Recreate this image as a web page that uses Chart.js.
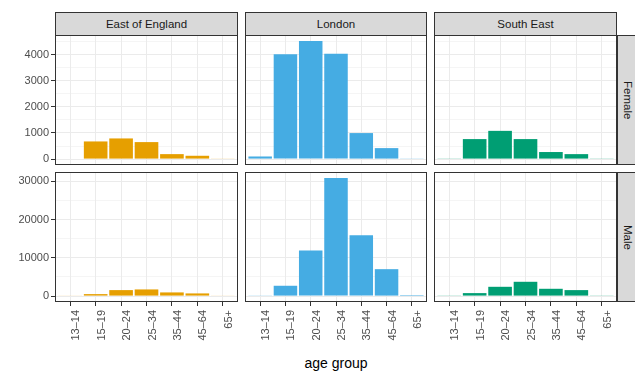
<!DOCTYPE html>
<html>
<head>
<meta charset="utf-8">
<script src="https://cdn.jsdelivr.net/npm/chart.js@4.4.1/dist/chart.umd.min.js"></script>
<style>
  html, body { margin:0; padding:0; background:#fff; }
  #wrap { position:relative; width:635px; height:376px; overflow:hidden; font-family:'Liberation Sans', Arial, sans-serif; }
  canvas { position:absolute; }
  .strip { position:absolute; box-sizing:border-box; background:#D9D9D9; border:1px solid #333; color:#1A1A1A; font-size:11.5px; display:flex; align-items:center; justify-content:center; }
  .strip.v span { writing-mode:vertical-rl; }
  #xtitle { position:absolute; left:55px; width:562px; top:355px; text-align:center; font-size:14px; color:#000; }
</style>
</head>
<body>
<div id="wrap">
  <div id="xtitle">age group</div>
</div>
<script>
const categories = ["13–14","15–19","20–24","25–34","35–44","45–64","65+"];
const regions = ["East of England","London","South East"];
const genders = ["Female","Male"];

const eastFemale      = [20, 675, 790, 650, 190, 127, 15];
const londonFemale    = [100, 4010, 4520, 4030, 995, 420, 25];
const southEastFemale = [25, 765, 1080, 765, 270, 190, 25];

const eastMale        = [150, 520, 1565, 1740, 960, 700, 150];
const londonMale      = [170, 2700, 11900, 30900, 15900, 7040, 260];
const southEastMale   = [170, 780, 2430, 3740, 1910, 1565, 170];

const femaleTicks = [0, 1000, 2000, 3000, 4000];
const maleTicks   = [0, 10000, 20000, 30000];

const regionColors = ["#E69F00", "#45ACE3", "#009E73"];

Chart.defaults.font.family = "'Liberation Sans', Arial, sans-serif";

const rows = [
  { gender: "Female", series: [eastFemale, londonFemale, southEastFemale], majors: femaleTicks },
  { gender: "Male",   series: [eastMale, londonMale, southEastMale],       majors: maleTicks }
];

const colLeft  = [55, 245, 434];
const colWidth = [183, 182, 183];
const rowTop   = [35, 172];
const panelH   = 130;
const yAxisW   = 55;
const xAxisH   = 50;

const panelBorder = {
  id: 'panelBorder',
  afterDraw(chart) {
    const { ctx, chartArea: a } = chart;
    ctx.save();
    ctx.strokeStyle = '#333333';
    ctx.lineWidth = 1;
    ctx.strokeRect(a.left + 0.5, a.top + 0.5, a.right - a.left - 1, a.bottom - a.top - 1);
    ctx.restore();
  }
};

function zeroPad(s) {
  s.paddingTop = 0; s.paddingBottom = 0; s.paddingLeft = 0; s.paddingRight = 0;
}

const wrap = document.getElementById('wrap');

// top strips
regions.forEach((r, c) => {
  const d = document.createElement('div');
  d.className = 'strip';
  d.style.left = colLeft[c] + 'px';
  d.style.top = '12px';
  d.style.width = colWidth[c] + 'px';
  d.style.height = '24px';
  d.textContent = r;
  wrap.appendChild(d);
});
// right strips
genders.forEach((g, ri) => {
  const d = document.createElement('div');
  d.className = 'strip v';
  d.style.left = '617px';
  d.style.top = rowTop[ri] + 'px';
  d.style.width = '22px';
  d.style.height = panelH + 'px';
  const s = document.createElement('span');
  s.textContent = g;
  d.appendChild(s);
  wrap.appendChild(d);
});

rows.forEach((row, ri) => {
  const M = Math.max(...row.series.flat());
  const yMin = -0.05 * M, yMax = 1.05 * M;
  const step = row.majors[1] - row.majors[0];
  const minors = row.majors.map(v => v + step / 2).concat([row.majors[0] - step / 2])
    .filter(v => v >= yMin && v <= yMax);
  const allTicks = row.majors.concat(minors).sort((a, b) => a - b);
  const isMajor = v => row.majors.includes(v);
  const bottomRow = ri === rows.length - 1;

  row.series.forEach((vals, c) => {
    const leftCol = c === 0;
    const cv = document.createElement('canvas');
    const w = colWidth[c] + (leftCol ? yAxisW : 0);
    const h = panelH + (bottomRow ? xAxisH : 0);
    cv.width = w; cv.height = h;
    cv.style.left = (leftCol ? colLeft[c] - yAxisW : colLeft[c]) + 'px';
    cv.style.top = rowTop[ri] + 'px';
    cv.style.width = w + 'px';
    cv.style.height = h + 'px';
    wrap.appendChild(cv);

    new Chart(cv, {
      type: 'bar',
      data: {
        datasets: [{
          data: categories.map((cat, i) => ({ x: i, y: vals[i] })),
          backgroundColor: regionColors[c],
          borderWidth: 0,
          barPercentage: 0.93,
          categoryPercentage: 1
        }]
      },
      options: {
        responsive: false,
        animation: false,
        events: [],
        layout: { padding: 0, autoPadding: false },
        plugins: { legend: { display: false }, tooltip: { enabled: false } },
        scales: {
          x: {
            type: 'linear',
            offset: false,
            min: -0.6, max: categories.length - 0.4,
            afterBuildTicks: s => { s.ticks = categories.map((cat, i) => ({ value: i })); },
            afterFit: s => { s.height = bottomRow ? xAxisH : 0; zeroPad(s); },
            border: { display: false },
            grid: { offset: false, color: '#EBEBEB', lineWidth: 1, drawTicks: bottomRow, tickLength: 4, tickColor: '#333333', tickWidth: 1 },
            ticks: {
              display: bottomRow, autoSkip: false, minRotation: 90, maxRotation: 90, padding: 4,
              labelOffset: 6,
              color: '#4D4D4D', font: { size: 11 },
              callback: v => categories[Math.round(v)]
            }
          },
          y: {
            type: 'linear',
            min: yMin, max: yMax,
            afterBuildTicks: s => { s.ticks = allTicks.map(v => ({ value: v })); },
            afterFit: s => { s.width = leftCol ? yAxisW : 0; zeroPad(s); },
            border: { display: false },
            grid: {
              color: '#EBEBEB',
              lineWidth: ctx => (ctx.tick && isMajor(ctx.tick.value)) ? 1 : 0.5,
              drawTicks: leftCol, tickLength: 4,
              tickColor: ctx => (ctx.tick && isMajor(ctx.tick.value)) ? '#333333' : 'rgba(0,0,0,0)',
              tickWidth: 1
            },
            ticks: {
              display: leftCol, autoSkip: false, padding: 2,
              color: '#4D4D4D', font: { size: 11 },
              callback: v => isMajor(v) ? String(v) : ''
            }
          }
        }
      },
      plugins: [panelBorder]
    });
  });
});
</script>
</body>
</html>
